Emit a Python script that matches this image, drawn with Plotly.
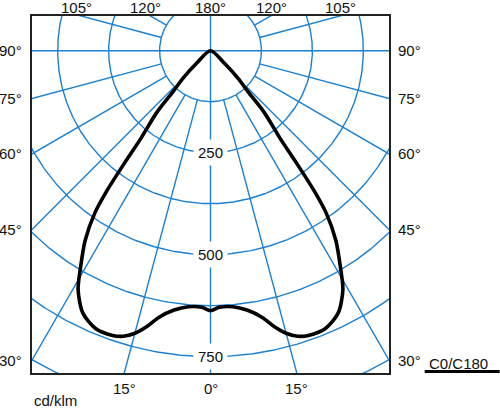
import numpy as np
import plotly.graph_objects as go

# ---- data (gamma angle from nadir, cd/klm) ----
gamma_deg = [0, 2, 5, 8, 11, 13, 15, 17, 19, 22.5, 26, 29, 31, 33.5, 35.5, 36.5, 37.5, 38.5, 41, 42.5, 45, 48, 50]
intensity = [637, 629, 630, 642, 666, 694, 717, 732, 738, 737, 715, 670, 619, 557, 489, 429, 344, 273, 202, 136, 95, 46, 0]

ring_values = [125, 250, 375, 500, 625, 750, 875]
ring_label_values = [250, 500, 750]
ray_angles = [15, 30, 45, 60, 75, 105, 120, 135, 150, 165]
side_label_angles = [90, 75, 60, 45, 30]
top_label_angles = [105, 120]
bottom_label_angles = [15]
unit_label = "cd/klm"
plane_label = "C0/C180"

# ---- view window (cd/klm units) ----
X_HALF = 438
Y_TOP = 85
Y_BOT = -790
BLUE = "#1a80d2"
FONT = "Liberation Sans, Arial, sans-serif"
TXT = dict(size=15, color="#111", family=FONT)

gx, gy = [], []
t = np.linspace(0, 2 * np.pi, 721)
for rv in ring_values:
    gx += list(rv * np.sin(t)) + [None]
    gy += list(rv * np.cos(t)) + [None]
for a in ray_angles:
    g = np.radians(a)
    for s in (1, -1):
        gx += [s * 125 * np.sin(g), s * 1200 * np.sin(g), None]
        gy += [-125 * np.cos(g), -1200 * np.cos(g), None]
gx += [0, 0, None, -1200, 1200, None]
gy += [-1200, 1200, None, 0, 0, None]

g = np.radians(gamma_deg)
r = np.array(intensity, dtype=float)
xr = r * np.sin(g)
yr = -r * np.cos(g)
cx = list(xr[::-1]) + list(-xr[1:])
cy = list(yr[::-1]) + list(yr[1:])

fig = go.Figure()
fig.add_trace(go.Scatter(x=gx, y=gy, mode="lines", line=dict(color=BLUE, width=1.4),
                         hoverinfo="skip", showlegend=False))
fig.add_trace(go.Scatter(x=cx, y=cy, mode="lines",
                         line=dict(color="black", width=3.6, shape="spline", smoothing=0.8),
                         hoverinfo="skip", showlegend=False))

ann = []
for v in ring_label_values:
    ann.append(dict(x=0, y=-v, xref="x", yref="y", text=str(v), showarrow=False,
                    bgcolor="white", borderpad=4, font=TXT))
for a in side_label_angles:
    yv = -X_HALF / np.tan(np.radians(a)) if a != 90 else 0
    ann.append(dict(x=0, y=yv, xref="paper", yref="y", text=f"{a}°", showarrow=False,
                    xanchor="right", xshift=-8, font=TXT))
    ann.append(dict(x=1, y=yv, xref="paper", yref="y", text=f"{a}°", showarrow=False,
                    xanchor="left", xshift=7, font=TXT))
for a in top_label_angles:
    xv = -Y_TOP * np.tan(np.radians(a))
    for s, sh in ((-1, -5), (1, 1)):
        ann.append(dict(x=s * xv, y=1, xref="x", yref="paper", text=f"{a}°", showarrow=False,
                        yanchor="bottom", yshift=-2, xshift=sh, font=TXT))
ann.append(dict(x=0, y=1, xref="x", yref="paper", text="180°", showarrow=False,
                yanchor="bottom", yshift=-2, font=TXT))
for a in bottom_label_angles:
    xv = -Y_BOT * np.tan(np.radians(a))
    for s in (-1, 1):
        ann.append(dict(x=s * xv, y=0, xref="x", yref="paper", text=f"{a}°", showarrow=False,
                        yanchor="top", yshift=-5, font=TXT))
ann.append(dict(x=0, y=0, xref="x", yref="paper", text="0°", showarrow=False,
                yanchor="top", yshift=-5, font=TXT))
ann.append(dict(x=0, y=0, xref="paper", yref="paper", text=unit_label, showarrow=False,
                xanchor="left", yanchor="top", yshift=-17, font=TXT))
ann.append(dict(x=1.1064, y=0.028, xref="paper", yref="paper", text=plane_label, showarrow=False,
                xanchor="left", yanchor="middle", font=TXT))

fig.update_layout(
    width=500, height=409, autosize=False,
    margin=dict(l=32, r=111, t=16, b=36),
    paper_bgcolor="white", plot_bgcolor="white",
    annotations=ann,
    shapes=[dict(type="line", xref="paper", yref="paper", x0=1.1, x1=1.31, y0=0.004, y1=0.004,
                 line=dict(color="black", width=3))],
    xaxis=dict(range=[-X_HALF, X_HALF], showgrid=False, zeroline=False, showticklabels=False,
               ticks="", showline=True, mirror=True, linecolor="#222", linewidth=1.5),
    yaxis=dict(range=[Y_BOT, Y_TOP], showgrid=False, zeroline=False, showticklabels=False,
               ticks="", showline=True, mirror=True, linecolor="#222", linewidth=1.5),
)
fig.write_html("out.html", config={"displayModeBar": False},
               post_script="document.body.style.margin='0';document.body.style.overflow='hidden';")
